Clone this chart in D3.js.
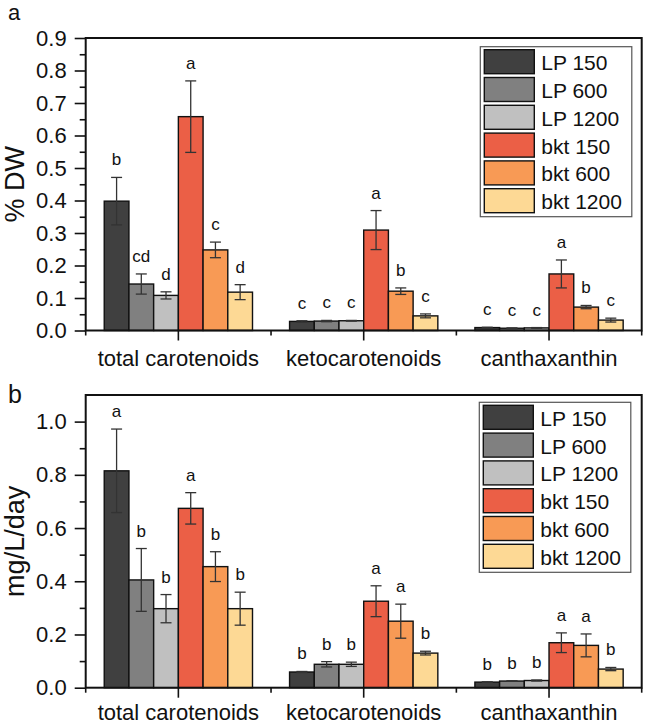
<!DOCTYPE html>
<html><head><meta charset="utf-8">
<script src="https://cdn.jsdelivr.net/npm/d3@7"></script>
<style>
html,body{margin:0;padding:0;background:#fff;}
svg{display:block;font-family:"Liberation Sans",Arial,sans-serif;}
</style></head>
<body><svg id="chart" width="646" height="727"></svg>
<script>
const groups = ["total carotenoids", "ketocarotenoids", "canthaxanthin"];
const series = ["LP 150", "LP 600", "LP 1200", "bkt 150", "bkt 600", "bkt 1200"];
const colors = ["#404040", "#808080", "#c0c0c0", "#eb5f46", "#f89a55", "#fdd995"];

// panel a: % DW
const aTotal = [0.398, 0.143, 0.108, 0.658, 0.248, 0.118];
const aTotalErr = [0.073, 0.031, 0.011, 0.110, 0.024, 0.023];
const aKeto = [0.028, 0.029, 0.030, 0.309, 0.121, 0.045];
const aKetoErr = [0.002, 0.002, 0.001, 0.060, 0.010, 0.006];
const aCantha = [0.009, 0.007, 0.008, 0.174, 0.072, 0.032];
const aCanthaErr = [0.001, 0.001, 0.001, 0.043, 0.005, 0.006];
const aLetters = [["b","cd","d","a","c","d"],["c","c","c","a","b","c"],["c","c","c","a","b","c"]];
const aTicks = [0, 0.1, 0.2, 0.3, 0.4, 0.5, 0.6, 0.7, 0.8, 0.9];

// panel b: mg/L/day
const bTotal = [0.815, 0.405, 0.297, 0.674, 0.455, 0.297];
const bTotalErr = [0.157, 0.118, 0.053, 0.059, 0.056, 0.062];
const bKeto = [0.059, 0.088, 0.088, 0.325, 0.250, 0.130];
const bKetoErr = [0.002, 0.010, 0.008, 0.058, 0.064, 0.007];
const bCantha = [0.021, 0.025, 0.027, 0.169, 0.159, 0.070];
const bCanthaErr = [0.001, 0.001, 0.002, 0.037, 0.043, 0.006];
const bLetters = [["a","b","b","a","b","b"],["b","b","b","a","a","b"],["b","b","b","a","a","b"]];
const bTicks = [0, 0.2, 0.4, 0.6, 0.8, 1.0];

const svg = d3.select("#chart");

function panel(cfg) {
  const g = svg.append("g");
  const x0 = d3.scaleBand().domain(groups).range([cfg.left, cfg.right]).paddingInner(0.2).paddingOuter(0.1);
  const x1 = d3.scaleBand().domain(series).range([0, x0.bandwidth()]);
  const y = d3.scaleLinear().domain(cfg.domain).range([cfg.bottom, cfg.top]);
  const step = x0.step();
  const start = cfg.left;

  const rows = [];
  cfg.values.forEach((vals, gi) => {
    vals.forEach((v, si) => rows.push({g: groups[gi], s: series[si], v, e: cfg.errs[gi][si], l: cfg.letters[gi][si], c: colors[si]}));
  });

  // bars
  g.selectAll("rect.bar").data(rows).join("rect").attr("class","bar")
    .attr("x", d => x0(d.g) + x1(d.s))
    .attr("width", x1.bandwidth())
    .attr("y", d => y(d.v))
    .attr("height", d => y(0) - y(d.v))
    .attr("fill", d => d.c).attr("stroke", "#111").attr("stroke-width", 1.4);

  // error bars
  const eb = g.selectAll("g.err").data(rows).join("g").attr("class","err")
    .attr("stroke", "#333").attr("stroke-width", 1.3);
  const cx = d => x0(d.g) + x1(d.s) + x1.bandwidth()/2;
  eb.append("line").attr("x1", cx).attr("x2", cx).attr("y1", d => y(d.v + d.e)).attr("y2", d => y(d.v - d.e));
  eb.append("line").attr("x1", d => cx(d) - 5.5).attr("x2", d => cx(d) + 5.5).attr("y1", d => y(d.v + d.e)).attr("y2", d => y(d.v + d.e));
  eb.append("line").attr("x1", d => cx(d) - 5.5).attr("x2", d => cx(d) + 5.5).attr("y1", d => y(d.v - d.e)).attr("y2", d => y(d.v - d.e));

  // letters
  g.selectAll("text.let").data(rows).join("text").attr("class","let")
    .attr("x", cx).attr("y", d => y(d.v + d.e) - 12)
    .attr("text-anchor", "middle").attr("font-size", 17).attr("fill", "#111")
    .text(d => d.l);

  // frame
  g.append("rect").attr("x", cfg.left).attr("y", cfg.top).attr("width", cfg.right - cfg.left).attr("height", cfg.bottom - cfg.top)
    .attr("fill", "none").attr("stroke", "#111").attr("stroke-width", 2);

  // y axis
  const yAx = g.append("g").attr("transform", `translate(${cfg.left},0)`)
    .call(d3.axisLeft(y).tickValues(cfg.ticks).tickFormat(d3.format(".1f")).tickSize(11).tickPadding(8));
  yAx.select(".domain").remove();
  yAx.selectAll("line").attr("stroke", "#111").attr("stroke-width", 1.6);
  yAx.selectAll("text").attr("font-size", 22).attr("fill", "#111").attr("font-family", "Liberation Sans, Arial, sans-serif");
  const minor = [];
  for (let i = 0; i < cfg.ticks.length - 1; i++) minor.push((cfg.ticks[i] + cfg.ticks[i+1]) / 2);
  const yMin = g.append("g").attr("transform", `translate(${cfg.left},0)`)
    .call(d3.axisLeft(y).tickValues(minor).tickFormat("").tickSize(6));
  yMin.select(".domain").remove();
  yMin.selectAll("line").attr("stroke", "#111").attr("stroke-width", 1.6);

  // x axis
  const xAx = g.append("g").attr("transform", `translate(0,${cfg.bottom})`)
    .call(d3.axisBottom(x0).tickSize(10).tickPadding(cfg.xPad));
  xAx.select(".domain").remove();
  xAx.selectAll("line").attr("stroke", "#111").attr("stroke-width", 1.6);
  xAx.selectAll("text").attr("font-size", 22).attr("fill", "#111").attr("font-family", "Liberation Sans, Arial, sans-serif");
  const bounds = d3.range(groups.length + 1).map(i => start + i * step);
  g.selectAll("line.xminor").data(bounds).join("line").attr("class","xminor")
    .attr("x1", d => d).attr("x2", d => d).attr("y1", cfg.bottom).attr("y2", cfg.bottom + 5)
    .attr("stroke", "#111").attr("stroke-width", 1.6);

  // y title
  g.append("text").attr("transform", `translate(${cfg.titleX},${(cfg.top + cfg.bottom)/2}) rotate(-90)`)
    .attr("text-anchor", "middle").attr("font-size", 27).attr("fill", "#111").text(cfg.title);

  // panel label
  g.append("text").attr("x", 8).attr("y", cfg.labelY).attr("font-size", cfg.labelSize).attr("fill", "#111").text(cfg.label);

  // legend
  const lg = g.append("g");
  lg.append("rect").attr("x", cfg.legX).attr("y", cfg.legY).attr("width", 151.5).attr("height", 170)
    .attr("fill", "#fff").attr("stroke", "#555").attr("stroke-width", 1.2);
  const items = lg.selectAll("g.it").data(series).join("g").attr("class","it")
    .attr("transform", (d, i) => `translate(${cfg.legX + 4},${cfg.legY + 3 + i * 27.8})`);
  items.append("rect").attr("width", 50).attr("height", 24).attr("fill", (d, i) => colors[i])
    .attr("stroke", "#111").attr("stroke-width", 1.4);
  items.append("text").attr("x", 57).attr("y", 20.5).attr("font-size", 21).attr("fill", "#111").text(d => d);
}

panel({
  left: 85.7, right: 641.7, top: 38, bottom: 330.5, domain: [0, 0.9], ticks: aTicks,
  values: [aTotal, aKeto, aCantha], errs: [aTotalErr, aKetoErr, aCanthaErr], letters: aLetters,
  title: "% DW", titleX: 24, label: "a", labelY: 20, labelSize: 22, legX: 480.3, legY: 46.7, xPad: 10
});
panel({
  left: 85.7, right: 641.7, top: 395, bottom: 687.7, domain: [0, 1.1], ticks: bTicks,
  values: [bTotal, bKeto, bCantha], errs: [bTotalErr, bKetoErr, bCanthaErr], letters: bLetters,
  title: "mg/L/day", titleX: 24, label: "b", labelY: 403, labelSize: 25, legX: 479.3, legY: 402.3, xPad: 7
});
</script></body></html>
